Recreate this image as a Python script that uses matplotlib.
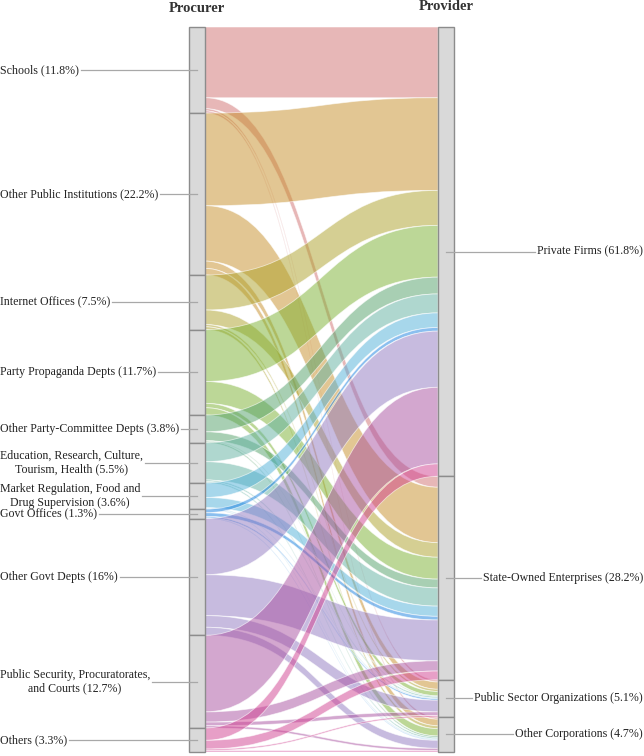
import matplotlib
matplotlib.use("Agg")
import matplotlib.pyplot as plt
from matplotlib.path import Path
from matplotlib.patches import PathPatch, Rectangle
import numpy as np

plt.rcParams['font.family'] = ['Liberation Serif', 'DejaVu Serif']

# procurers (left) and providers (right)
procurer_labels = [
    "Schools (11.8%)",
    "Other Public Institutions (22.2%)",
    "Internet Offices (7.5%)",
    "Party Propaganda Depts (11.7%)",
    "Other Party-Committee Depts (3.8%)",
    "Education, Research, Culture,\nTourism, Health (5.5%)",
    "Market Regulation, Food and\nDrug Supervision (3.6%)",
    "Govt Offices (1.3%)",
    "Other Govt Depts (16%)",
    "Public Security, Procuratorates,\nand Courts (12.7%)",
    "Others (3.3%)",
]
provider_labels = [
    "Private Firms (61.8%)",
    "State-Owned Enterprises (28.2%)",
    "Public Sector Organizations (5.1%)",
    "Other Corporations (4.7%)",
]

# share of contracts, procurer -> provider (Private, SOE, Public Sector, Other Corp)
flows = np.array([
    [9.7, 1.5, 0.3, 0.3],
    [12.7, 7.6, 1.0, 0.9],
    [4.8, 2.0, 0.3, 0.4],
    [7.1, 3.0, 0.6, 1.0],
    [2.3, 1.2, 0.1, 0.2],
    [2.6, 2.5, 0.2, 0.2],
    [2.0, 1.4, 0.1, 0.1],
    [0.5, 0.5, 0.2, 0.1],
    [7.7, 5.6, 1.6, 1.1],
    [10.5, 1.4, 0.5, 0.3],
    [1.7, 1.2, 0.2, 0.2],
])

colors = ["#d17171", "#c78f29", "#ada129", "#7bb131", "#53a169", "#61b1a1",
          "#51b1d9", "#1981e1", "#9179c1", "#a951a1", "#d14191"]

fig = plt.figure(figsize=(6.44, 7.56), dpi=100)
ax = fig.add_axes([0, 0, 1, 1])
ax.set_xlim(0, 644)
ax.set_ylim(756, 0)
ax.axis('off')

top, bottom = 27, 752
lx, rx, bw = 189, 438, 16
scale = (bottom - top) / flows.sum()

src_tot = flows.sum(axis=1)
dst_tot = flows.sum(axis=0)
src_top = top + np.concatenate([[0], np.cumsum(src_tot)[:-1]]) * scale
dst_top = top + np.concatenate([[0], np.cumsum(dst_tot)[:-1]]) * scale

# ribbons
x0, x1 = lx + bw, rx
xm = (x0 + x1) / 2
dst_cursor = dst_top.copy()
for i in range(flows.shape[0]):
    sc = src_top[i]
    for j in range(flows.shape[1]):
        h = flows[i, j] * scale
        ya, yb = sc, dst_cursor[j]
        verts = [(x0, ya), (xm, ya), (xm, yb), (x1, yb),
                 (x1, yb + h),
                 (xm, yb + h), (xm, ya + h), (x0, ya + h),
                 (x0, ya)]
        codes = [Path.MOVETO, Path.CURVE4, Path.CURVE4, Path.CURVE4,
                 Path.LINETO,
                 Path.CURVE4, Path.CURVE4, Path.CURVE4,
                 Path.CLOSEPOLY]
        fc = matplotlib.colors.to_rgba(colors[i], 0.5)
        ax.add_patch(PathPatch(Path(verts, codes), facecolor=fc,
                               edgecolor=(1, 1, 1, 0.6), lw=0.6, zorder=2))
        sc += h
        dst_cursor[j] += h

# nodes
for i in range(len(src_tot)):
    ax.add_patch(Rectangle((lx, src_top[i]), bw, src_tot[i] * scale,
                           facecolor="#d9d9d9", edgecolor="#8c8c8c", lw=1, zorder=3))
for j in range(len(dst_tot)):
    ax.add_patch(Rectangle((rx, dst_top[j]), bw, dst_tot[j] * scale,
                           facecolor="#d9d9d9", edgecolor="#8c8c8c", lw=1, zorder=3))

fs = 8.6
left_texts = []
for i, lab in enumerate(procurer_labels):
    yc = src_top[i] + src_tot[i] * scale / 2
    t = ax.text(0, yc, lab, ha='left', va='center', multialignment='center',
                fontsize=fs, color="#222222", zorder=5)
    left_texts.append((t, yc))
right_texts = []
for j, lab in enumerate(provider_labels):
    yc = dst_top[j] + dst_tot[j] * scale / 2
    t = ax.text(643, yc, lab, ha='right', va='center', fontsize=fs,
                color="#222222", zorder=5)
    right_texts.append((t, yc))

ax.text(lx + bw / 2, 8, "Procurer", ha='center', va='center',
        fontsize=10.5, fontweight='bold', color="#333333")
ax.text(rx + bw / 2, 6, "Provider", ha='center', va='center',
        fontsize=10.5, fontweight='bold', color="#333333")

fig.canvas.draw()
renderer = fig.canvas.get_renderer()
inv = ax.transData.inverted()
for t, yc in left_texts:
    bb = t.get_window_extent(renderer)
    xr = inv.transform((bb.x1, bb.y0))[0]
    ax.plot([xr + 2, lx + bw / 2], [yc, yc], color="#a8a8a8", lw=0.9, zorder=4)
for t, yc in right_texts:
    bb = t.get_window_extent(renderer)
    xl = inv.transform((bb.x0, bb.y0))[0]
    ax.plot([rx + bw / 2, xl - 2], [yc, yc], color="#a8a8a8", lw=0.9, zorder=4)

fig.savefig("out.png", dpi=100)
